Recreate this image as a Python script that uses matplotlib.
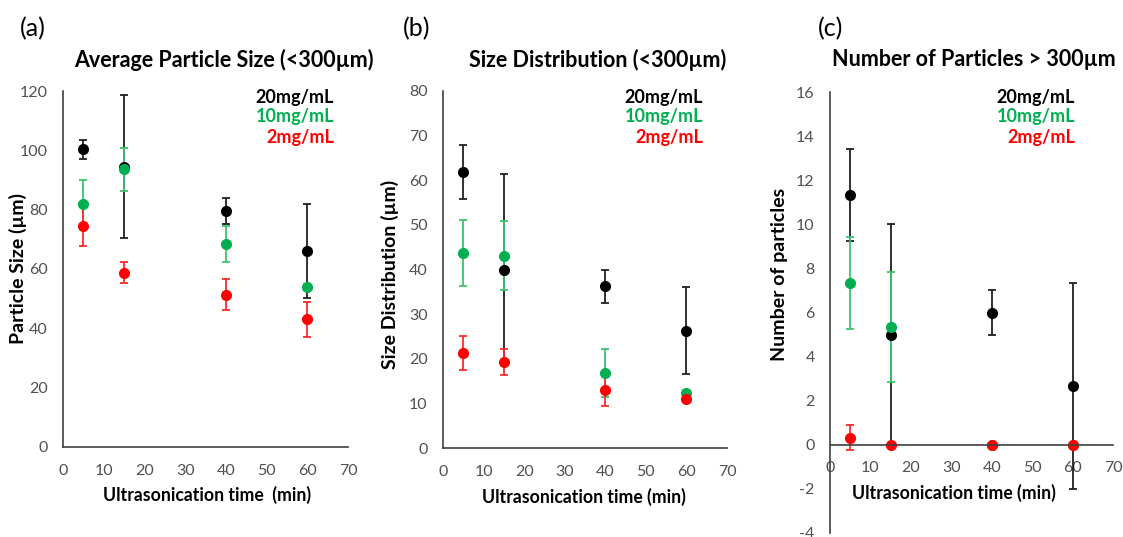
import numpy as np
import matplotlib
matplotlib.use("Agg")
import matplotlib.pyplot as plt

plt.rcParams['font.family'] = ['Lato', 'DejaVu Sans']
plt.rcParams['axes.unicode_minus'] = False

# ultrasonication times (min)
times = [5, 15, 40, 60]
series = ["20mg/mL", "10mg/mL", "2mg/mL"]

# (a) average particle size (um)
size_mean = {"20mg/mL": [100.3, 94.5, 79.6, 66.0],
             "10mg/mL": [81.9, 93.6, 68.5, 53.8],
             "2mg/mL":  [74.5, 58.8, 51.3, 43.0]}
size_err = {"20mg/mL": [3.3, 24.2, 4.5, 15.8],
            "10mg/mL": [8.2, 7.3, 6.0, 1.0],
            "2mg/mL":  [6.8, 3.5, 5.2, 6.0]}

# (b) size distribution (um)
dist_mean = {"20mg/mL": [61.9, 40.0, 36.2, 26.3],
             "10mg/mL": [43.7, 43.1, 16.8, 12.3],
             "2mg/mL":  [21.2, 19.3, 13.1, 11.0]}
dist_err = {"20mg/mL": [6.0, 21.3, 3.8, 9.7],
            "10mg/mL": [7.5, 7.7, 5.4, 0.6],
            "2mg/mL":  [3.8, 2.9, 3.6, 0.5]}

# (c) number of particles > 300um
num_mean = {"20mg/mL": [11.33, 5.0, 6.0, 2.67],
            "10mg/mL": [7.33, 5.33, 0.0, 0.0],
            "2mg/mL":  [0.33, 0.0, 0.0, 0.0]}
num_err = {"20mg/mL": [2.1, 5.0, 1.0, 4.66],
           "10mg/mL": [2.1, 2.5, 0.0, 0.0],
           "2mg/mL":  [0.57, 0.0, 0.0, 0.0]}

colors = {"20mg/mL": "#000000", "10mg/mL": "#00B050", "2mg/mL": "#FF0000"}
err_colors = {"20mg/mL": "#202020", "10mg/mL": "#3CC46E", "2mg/mL": "#FF2A2A"}

W, H = 1123, 537
fig = plt.figure(figsize=(W / 100, H / 100), dpi=100)


def px_axes(l, r, t, b):
    return fig.add_axes([l / W, (H - b) / H, (r - l) / W, (b - t) / H])


def draw(ax, means, errs, ymax, ystep, ymin=0):
    for s in series:
        ax.errorbar(times, means[s], yerr=errs[s], fmt='o', color=colors[s],
                    ecolor=err_colors[s], elinewidth=1.3, capsize=3,
                    capthick=1.3, ms=7)
    ax.set_xlim(0, 70)
    ax.set_ylim(ymin, ymax)
    ax.set_xticks(np.arange(0, 71, 10))
    ax.set_yticks(np.arange(ymin, ymax + 0.01, ystep))
    for sp in ['top', 'right']:
        ax.spines[sp].set_visible(False)
    for sp in ['left', 'bottom']:
        ax.spines[sp].set_color('#404040')
        ax.spines[sp].set_linewidth(1.2)
    ax.tick_params(length=0, labelsize=11.5, labelcolor='#505050')
    ax.tick_params(axis='y', pad=11)
    ax.tick_params(axis='x', pad=12)


def legend_text(xr, ytop):
    for i, s in enumerate(series):
        fig.text(xr / W, 1 - (ytop + i * 20) / H, s, color=colors[s],
                 ha='right', va='center', fontsize=13, fontweight='bold')


def ylabel(x, y, txt):
    fig.text(x / W, 1 - y / H, txt, fontsize=14, fontweight='bold',
             ha='center', va='center', rotation=90)


def xlabel(x, y, txt):
    fig.text(x / W, 1 - y / H, txt, fontsize=12.7, fontweight='bold',
             ha='center', va='center')


def title(x, txt):
    fig.text(x / W, 1 - 60 / H, txt, fontsize=15.5, fontweight='bold',
             ha='center', va='center')


def panel(x, txt):
    fig.text(x / W, 1 - 29 / H, txt, fontsize=18, va='center')


# panel (a)
ax1 = px_axes(63, 348, 91, 447)
draw(ax1, size_mean, size_err, 120, 20)
legend_text(334, 97)
panel(20, "(a)")
title(224, "Average Particle Size (<300µm)")
xlabel(207, 495, "Ultrasonication time  (min)")
ylabel(18, 269, "Particle Size (µm)")

# panel (b)
ax2 = px_axes(443, 727, 91, 448)
draw(ax2, dist_mean, dist_err, 80, 10)
legend_text(703, 97)
panel(403, "(b)")
title(598, "Size Distribution (<300µm)")
xlabel(584, 497, "Ultrasonication time (min)")
ylabel(390, 274, "Size Distribution (µm)")

# panel (c)
ax3 = px_axes(830, 1113, 92, 533)
draw(ax3, num_mean, num_err, 16, 2, ymin=-4)
ax3.spines['bottom'].set_position(('data', 0))
ax3.spines['left'].set_position(('data', 0))
legend_text(1075, 97)
panel(818, "(c)")
title(974, "Number of Particles > 300µm")
xlabel(954, 493, "Ultrasonication time (min)")
ylabel(779, 274, "Number of particles")

fig.savefig("out.png", dpi=100)
